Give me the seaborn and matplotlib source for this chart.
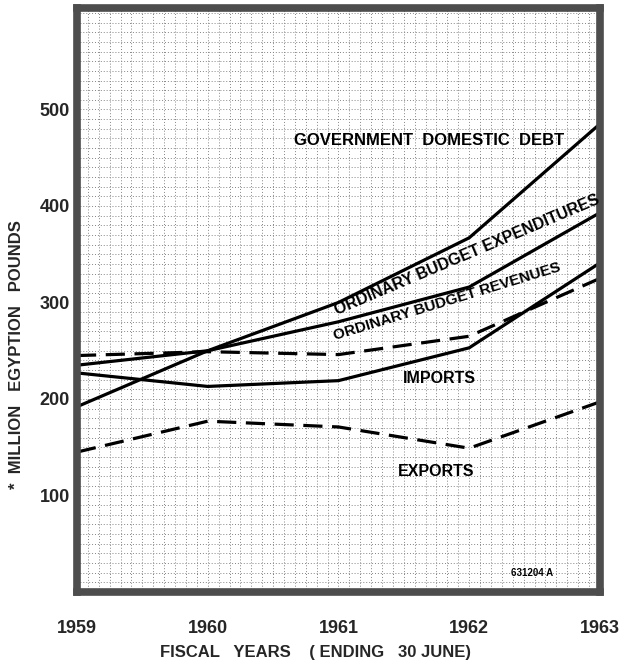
import numpy as np
import pandas as pd
import matplotlib
matplotlib.use('Agg')
import matplotlib.pyplot as plt
import seaborn as sns

# data (million Egyptian pounds)
years = [1959, 1960, 1961, 1962, 1963]
year_labels = ["1959", "1960", "1961", "1962", "1963"]
domestic_debt = [192, 250, 300, 367, 485]
budget_expenditures = [235, 250, 280, 316, 393]
budget_revenues = [245, 249, 246, 265, 325]
imports = [227, 213, 219, 253, 341]
exports = [145, 177, 171, 149, 197]
y_ticks = [100, 200, 300, 400, 500]

sns.set_theme(style="white")
plt.rcParams['font.family'] = ['Liberation Sans', 'DejaVu Sans']
plt.rcParams['font.weight'] = 'bold'

fig = plt.figure(figsize=(6.21, 6.68), dpi=100)
ax = fig.add_axes([0.124, 0.1138, 0.842, 0.874])

series = [
    ("Government domestic debt", domestic_debt, "-"),
    ("Ordinary budget expenditures", budget_expenditures, "-"),
    ("Ordinary budget revenues", budget_revenues, (0, (6, 3))),
    ("Imports", imports, "-"),
    ("Exports", exports, (0, (6, 3))),
]
for name, vals, ls in series:
    df = pd.DataFrame({"year": years, "value": vals})
    sns.lineplot(data=df, x="year", y="value", ax=ax, color="black",
                 linewidth=2.3, linestyle=ls, legend=False)

ax.set_xlim(1959, 1963)
ax.set_ylim(0, 605)

# graph paper grid: monthly verticals, 10-unit horizontals
ax.set_xticks(years)
ax.set_xticklabels(year_labels)
ax.set_xticks(np.arange(1959, 1963, 1 / 12), minor=True)
ax.set_yticks(y_ticks)
ax.set_yticks(np.arange(0, 605, 10), minor=True)
ax.grid(which="both", color="#858585", linestyle=(0, (1, 2)), linewidth=0.7)
ax.tick_params(which="both", length=0)
ax.tick_params(axis="x", pad=20, labelsize=13)
ax.tick_params(axis="y", pad=5, labelsize=13)
for lab in ax.get_xticklabels() + ax.get_yticklabels():
    lab.set_fontweight("bold")

for sp in ax.spines.values():
    sp.set_visible(True)
    sp.set_color("#4d4d4d")
    sp.set_linewidth(5.5)

ax.set_xlabel("")
ax.set_ylabel("")

txt = dict(color="black", fontweight="bold", ha="center", va="center")
ax.text(1961.69, 468, "GOVERNMENT  DOMESTIC  DEBT", fontsize=12, **txt)
ax.text(1961.98, 349, "ORDINARY BUDGET EXPENDITURES", fontsize=11.5, rotation=23, **txt)
ax.text(1961.83, 301, "ORDINARY BUDGET REVENUES", fontsize=11, rotation=17, **txt)
ax.text(1961.77, 221, "IMPORTS", fontsize=11.5, **txt)
ax.text(1961.75, 125, "EXPORTS", fontsize=11.5, **txt)
ax.text(1962.48, 20, "631204 A", fontsize=7, **txt)

fig.text(17 / 621, 1 - 355 / 668, "*  MILLION   EGYPTION   POUNDS", rotation=90,
         fontsize=12, fontweight="bold", ha="center", va="center")
fig.text(316 / 621, 1 - 653 / 668, "FISCAL   YEARS    ( ENDING   30 JUNE)",
         fontsize=12, fontweight="bold", ha="center", va="center")

fig.savefig("out.png", dpi=100)
